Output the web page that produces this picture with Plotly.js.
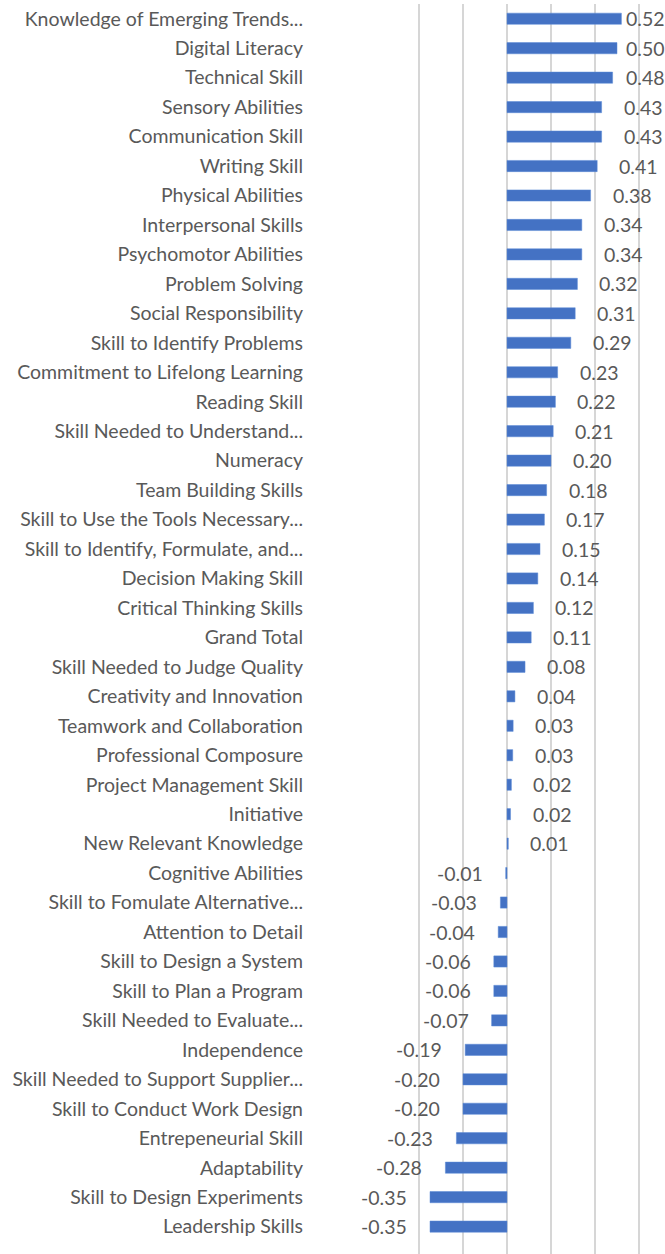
<!DOCTYPE html>
<html>
<head>
<meta charset="utf-8">
<script src="https://cdn.plot.ly/plotly-3.0.1.min.js"></script>
<style>
html, body { margin: 0; padding: 0; background: #ffffff; overflow: hidden; }
#chart { width: 665px; height: 1254px; }
</style>
</head>
<body>
<div id="chart"></div>
<script>
// ---- data (top to bottom) ----
const categories = [
  "Knowledge of Emerging Trends...",
  "Digital Literacy",
  "Technical Skill",
  "Sensory Abilities",
  "Communication Skill",
  "Writing Skill",
  "Physical Abilities",
  "Interpersonal Skills",
  "Psychomotor Abilities",
  "Problem Solving",
  "Social Responsibility",
  "Skill to Identify Problems",
  "Commitment to Lifelong Learning",
  "Reading Skill",
  "Skill Needed to Understand...",
  "Numeracy",
  "Team Building Skills",
  "Skill to Use the Tools Necessary...",
  "Skill to Identify, Formulate, and...",
  "Decision Making Skill",
  "Critical Thinking Skills",
  "Grand Total",
  "Skill Needed to Judge Quality",
  "Creativity and Innovation",
  "Teamwork and Collaboration",
  "Professional Composure",
  "Project Management Skill",
  "Initiative",
  "New Relevant Knowledge",
  "Cognitive Abilities",
  "Skill to Fomulate Alternative...",
  "Attention to Detail",
  "Skill to Design a System",
  "Skill to Plan a Program",
  "Skill Needed to Evaluate...",
  "Independence",
  "Skill Needed to Support Supplier...",
  "Skill to Conduct Work Design",
  "Entrepeneurial Skill",
  "Adaptability",
  "Skill to Design Experiments",
  "Leadership Skills"
];

const values = [
  0.52, 0.50, 0.48, 0.43, 0.43, 0.41, 0.38, 0.34, 0.34, 0.32,
  0.31, 0.29, 0.23, 0.22, 0.21, 0.20, 0.18, 0.17, 0.15, 0.14,
  0.12, 0.11, 0.082, 0.036, 0.028, 0.026, 0.02, 0.016, 0.006, -0.006,
  -0.03, -0.04, -0.06, -0.06, -0.07, -0.19, -0.20, -0.20, -0.23, -0.28,
  -0.35, -0.35
];

const gridTicks = [-0.4, -0.2, 0, 0.2, 0.4, 0.6];

// ---- styling ----
const FONT = "Lato, 'Open Sans', sans-serif";
const TEXT_COLOR = "#595959";
const BAR_COLOR = "#4472C4";
const LABEL_CAP = 0.443; // keep value labels inside the chart area on the right

const annotations = values.map((v, i) => {
  const pos = v >= 0;
  return {
    x: pos ? Math.min(v, LABEL_CAP) : v,
    y: categories[i],
    xref: "x", yref: "y",
    text: v.toFixed(2),
    showarrow: false,
    xanchor: pos ? "left" : "right",
    yanchor: "middle",
    xshift: pos ? 20 : -21,
    font: { family: FONT, size: 19.5, color: TEXT_COLOR }
  };
});

const trace = {
  type: "bar",
  orientation: "h",
  x: values,
  y: categories,
  marker: { color: BAR_COLOR, line: { color: "#5b8bd6", width: 0.5 } },
  hoverinfo: "x+y"
};

const layout = {
  width: 665,
  height: 1254,
  margin: { l: 306, r: 0, t: 4, b: 0, pad: 0 },
  paper_bgcolor: "#ffffff",
  plot_bgcolor: "#ffffff",
  showlegend: false,
  bargap: 0.62,
  font: { family: FONT, color: TEXT_COLOR },
  xaxis: {
    range: [-201 / 220, 158 / 220],
    tickvals: gridTicks,
    showticklabels: false,
    showgrid: true,
    gridcolor: "#d6d6d6",
    gridwidth: 2,
    zeroline: false,
    showline: false,
    ticks: "",
    fixedrange: true
  },
  yaxis: {
    type: "category",
    range: [categories.length - 0.07, -0.5],
    showgrid: false,
    zeroline: false,
    showline: false,
    ticks: "",
    ticklabelstandoff: 2,
    tickfont: { family: FONT, size: 19.5, color: TEXT_COLOR },
    automargin: false,
    fixedrange: true
  },
  annotations: annotations
};

Plotly.newPlot("chart", [trace], layout, { displayModeBar: false, staticPlot: true });
</script>
</body>
</html>
